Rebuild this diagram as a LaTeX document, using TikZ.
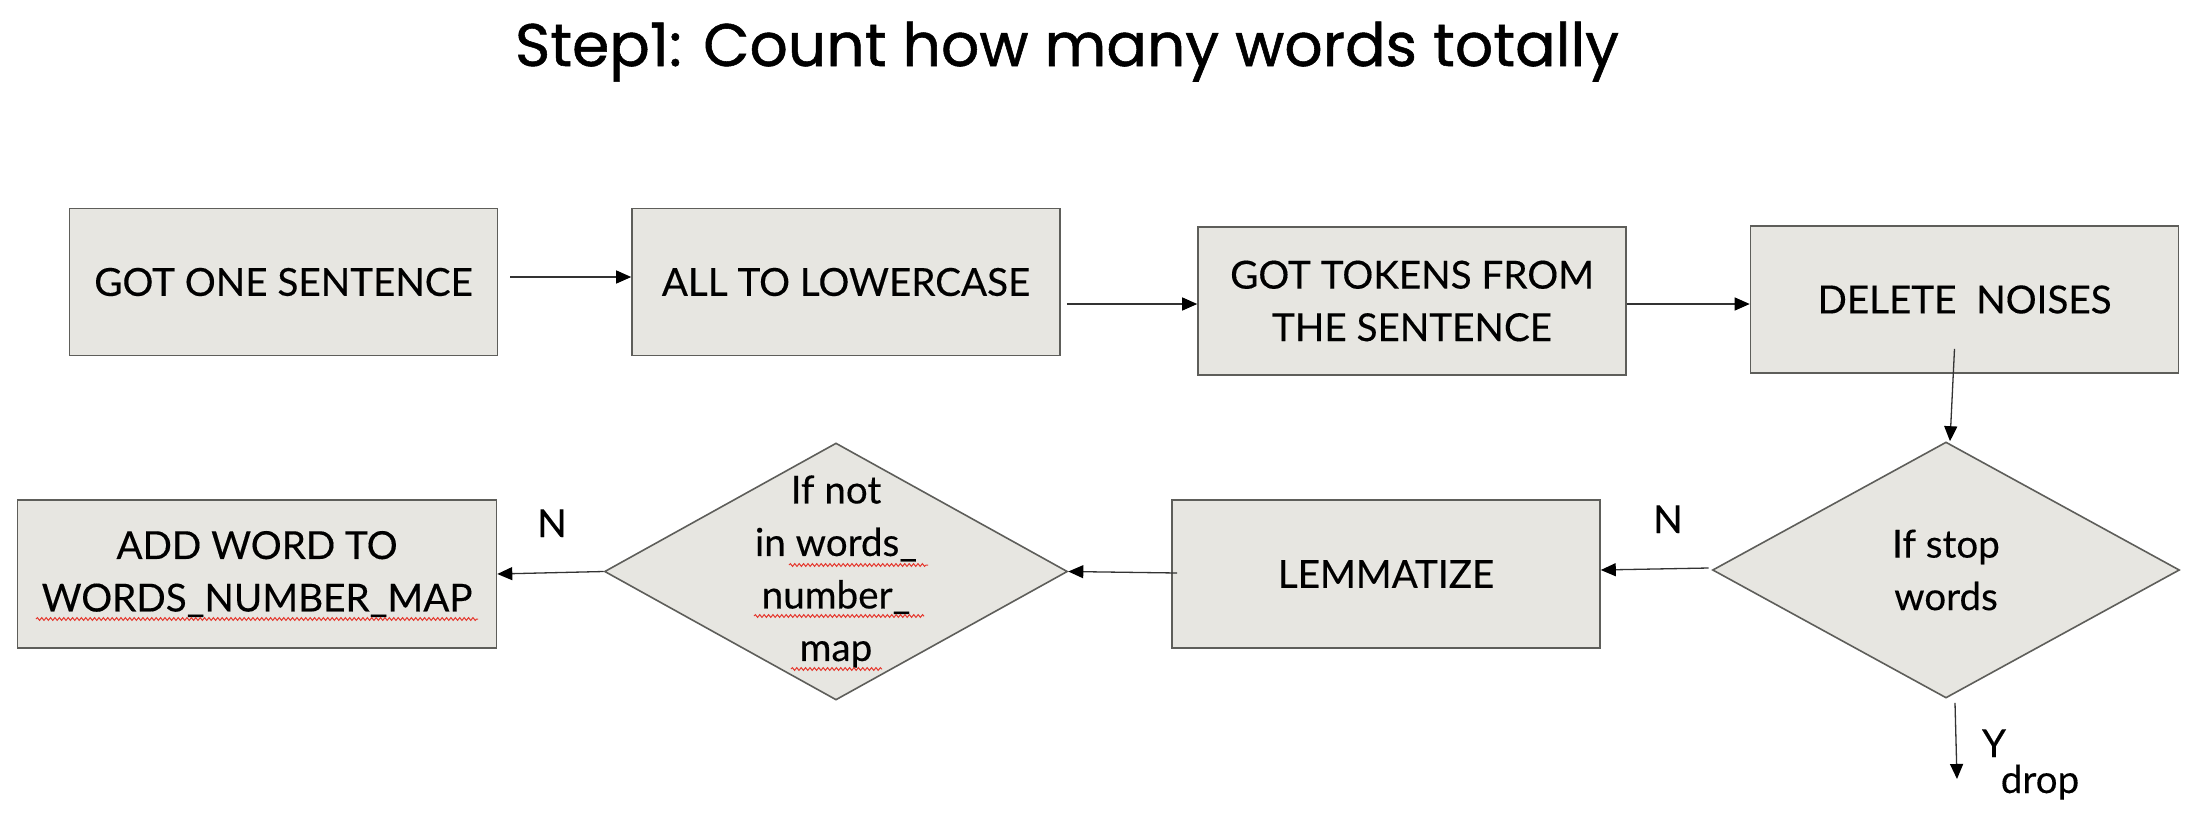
\documentclass[tikz,border=0pt]{standalone}
\usepackage{fontspec}
\setmainfont[FakeBold=0.3]{Lato}
\newfontfamily\titlefont[FakeBold=0.9]{Poppins}
\usetikzlibrary{shapes.geometric,arrows.meta,decorations.pathmorphing,calc}
\definecolor{boxfill}{HTML}{E7E6E1}
\definecolor{boxline}{HTML}{5E5E5A}
\definecolor{arrowline}{HTML}{333333}
\definecolor{squig}{HTML}{E5392F}
\begin{document}
\begin{tikzpicture}[x=0.5pt,y=-0.5pt,
  proc/.style={draw=boxline, line width=0.8pt, fill=boxfill, rectangle, minimum width=214pt, minimum height=73.5pt, inner sep=0pt, align=center, font=\fontsize{19.3}{26.25}\selectfont},
  decision/.style={draw=boxline, line width=0.8pt, fill=boxfill, diamond, inner sep=0pt},
  lbl/.style={font=\fontsize{19.3}{26.25}\selectfont, inner sep=0pt, align=center},
  arr/.style={draw=arrowline, line width=0.65pt, -{Triangle[length=7.5pt,width=6.5pt,color=black]}},
  wavy/.style={draw=squig, line width=0.5pt, decorate, decoration={snake, amplitude=0.7pt, segment length=2.2pt}}
]
\useasboundingbox (0,0) rectangle (2202,820);
\node[font=\titlefont\fontsize{30}{36}\selectfont, anchor=base, inner sep=0pt] (title) at (1067,66) {Step1: Count how many words totally};

\node[proc] (b1) at (283.5,282) {GOT ONE SENTENCE};
\node[proc] (b2) at (846,282) {ALL TO LOWERCASE};
\node[proc, minimum height=74pt] (b3) at (1412,301) {GOT TOKENS FROM\\THE SENTENCE};
\node[proc] (b4) at (1964.5,299.5) {DELETE\ \ NOISES};
\node[proc, minimum height=74pt] (lm) at (1386,574) {LEMMATIZE};
\node[proc, minimum height=74pt, minimum width=239.5pt] (add) at (257,574) {ADD WORD TO\\WORDS\_NUMBER\_MAP};

\node[decision, minimum width=233.5pt, minimum height=128pt] (d1) at (1946,570) {};
\node[lbl] (d1t) at (d1.center) {If stop\\words};
\node[decision, minimum width=231.5pt, minimum height=128.5pt] (d2) at (836,571.5) {};
\node[lbl] (d2t) at (d2.center) {If not\\in words\_\\number\_\\map};

\draw[arr] ([shift={(12,-5)}]b1.east) -- ([shift={(0,-5)}]b2.west);
\draw[arr] ([shift={(6,22)}]b2.east) -- ([shift={(0,3)}]b3.west);
\draw[arr] ([shift={(0,3)}]b3.east) -- ([shift={(0,4.5)}]b4.west);
\draw[arr] ([shift={(-10,-25)}]b4.south) -- ([shift={(4,0)}]d1.north);
\draw[arr] ([shift={(-3,-2)}]d1.west) -- ([shift={(0,-4)}]lm.east);
\draw[arr] ([shift={(6,-1)}]lm.west) -- (d2.east);
\draw[arr] (d2.west) -- (add.east);
\coordinate (dropend) at (1957,779);
\draw[arr] ([shift={(9,4)}]d1.south) -- (dropend);

\node[lbl, anchor=base] (n1) at (552,537) {N};
\node[lbl, anchor=base] (n2) at (1668,533) {N};
\node[lbl, anchor=base] (ylbl) at (1994,757) {Y};
\node[lbl, anchor=base] (drop) at (2040,793) {drop};

\draw[wavy] (36,619) -- (478,619);
\draw[wavy] (789,565) -- (928,565);
\draw[wavy] (754,616) -- (924,616);
\draw[wavy] (791,669) -- (882,669);
\end{tikzpicture}
\end{document}
